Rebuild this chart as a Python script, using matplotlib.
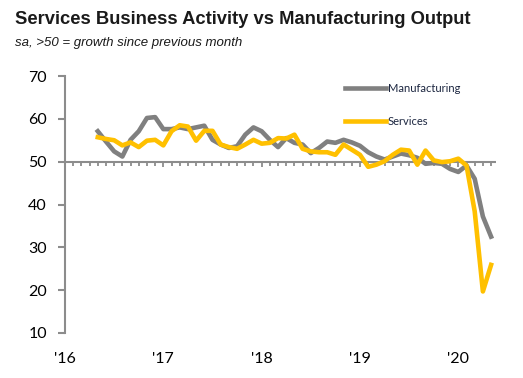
import matplotlib
matplotlib.use('Agg')
import matplotlib.pyplot as plt
import numpy as np

# month index, Jan 2016 = 0; data run May 2016 .. May 2020
start_month = 4
manufacturing = [57.1, 54.7, 52.4, 51.2, 55.1, 57.1, 60.2, 60.4, 57.6, 57.6,
                 58.0, 57.6, 58.0, 58.4, 55.1, 54.0, 53.2, 53.6, 56.3, 58.0,
                 57.1, 55.1, 53.4, 55.5, 54.4, 54.0, 52.0, 53.2, 54.7, 54.4,
                 55.1, 54.5, 53.7, 52.2, 51.2, 50.5, 51.2, 51.9, 51.5, 50.9,
                 49.5, 49.7, 49.5, 48.3, 47.6, 49.1, 46.0, 37.2, 32.5]
services = [55.7, 55.3, 55.0, 53.8, 54.5, 53.4, 54.9, 55.1, 53.8, 57.1,
            58.5, 58.2, 54.9, 57.2, 57.2, 54.0, 53.4, 53.0, 54.0, 55.1,
            54.2, 54.4, 55.5, 55.4, 56.3, 53.0, 52.4, 52.2, 52.2, 51.6,
            54.0, 52.8, 51.6, 48.8, 49.3, 50.1, 51.6, 52.8, 52.6, 49.3,
            52.6, 50.3, 49.9, 50.1, 50.7, 49.1, 38.4, 19.7, 25.9]
year_labels = ["'16", "'17", "'18", "'19", "'20"]
y_ticks = [10, 20, 30, 40, 50, 60, 70]

GREY = '#808080'
GOLD = '#FFC000'
AXIS = '#8c8c8c'
NUM_FONT = ['Lato', 'DejaVu Sans']

x = np.arange(len(manufacturing)) + start_month

fig = plt.figure(figsize=(5.23, 3.78), dpi=100)
ax = fig.add_axes([65 / 523, 1 - 333 / 378, 431 / 523, 257 / 378])

ax.plot(x, manufacturing, color=GREY, lw=3.3, label='Manufacturing',
        solid_joinstyle='round', zorder=3)
ax.plot(x, services, color=GOLD, lw=3.3, label='Services',
        solid_joinstyle='round', zorder=4)

ax.set_xlim(0, 52.6)
ax.set_ylim(10, 70)

# y axis
for s in ['top', 'right', 'bottom']:
    ax.spines[s].set_visible(False)
ax.spines['left'].set_color(AXIS)
ax.spines['left'].set_linewidth(1.5)
ax.set_yticks(y_ticks)
ax.tick_params(axis='y', length=5, width=1.5, color=AXIS, labelsize=11.5, pad=8)
for lbl in ax.get_yticklabels():
    lbl.set_fontfamily(NUM_FONT)

# the 50 line carries the month ticks
ax.set_xticks([])
ax.axhline(50, color=AXIS, lw=1.5, zorder=2)
months = np.arange(1, 53)
for m in months:
    tick_len = 1.3 if m % 12 == 0 else 0.9
    ax.plot([m, m], [50, 50 - tick_len], color=AXIS, lw=1.3, zorder=2,
            solid_capstyle='butt')

for i, lab in enumerate(year_labels):
    ax.text(i * 12, -0.1, lab, transform=ax.get_xaxis_transform(),
            ha='center', va='center', fontsize=11.5, family=NUM_FONT)

leg = ax.legend(loc='upper left', bbox_to_anchor=(345 / 523, 1 - 83 / 378),
                bbox_transform=fig.transFigure, frameon=False,
                handlelength=3.7, handletextpad=0.15, labelspacing=1.95,
                borderpad=0, borderaxespad=0,
                prop={'family': NUM_FONT, 'size': 8})
for t in leg.get_texts():
    t.set_color('#1c2640')

fig.text(15 / 523, 1 - 19 / 378, 'Services Business Activity vs Manufacturing Output',
         fontsize=13.2, fontweight='bold', family='Liberation Sans',
         color='#1a1a1a', va='center', ha='left')
fig.text(15 / 523, 1 - 43 / 378, 'sa, >50 = growth since previous month',
         fontsize=9.5, style='italic', family='Liberation Sans',
         color='#1a1a1a', va='center', ha='left')

fig.savefig('out.png', dpi=100)
